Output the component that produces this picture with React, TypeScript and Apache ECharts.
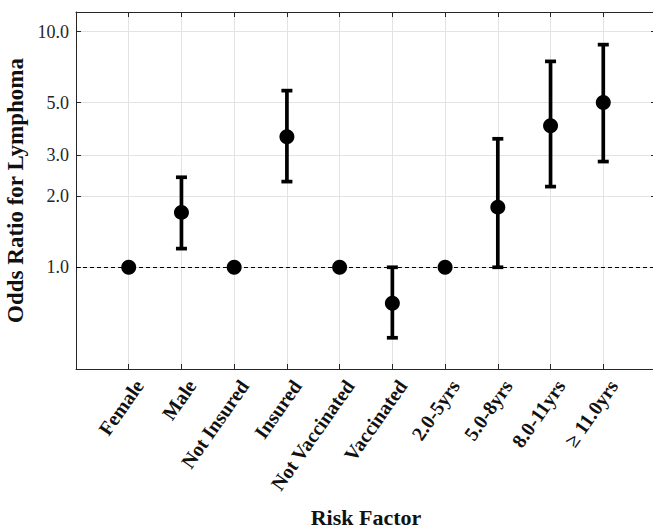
import React, { useEffect, useRef } from "react";
import * as echarts from "echarts";

const categories = [
  "Female", "Male", "Not Insured", "Insured", "Not Vaccinated",
  "Vaccinated", "2.0-5yrs", "5.0-8yrs", "8.0-11yrs", "≥ 11.0yrs",
];
const oddsRatio = [1.0, 1.71, 1.0, 3.58, 1.0, 0.703, 1.0, 1.8, 3.99, 5.01];
const ciLower: (number | null)[] = [null, 1.2, null, 2.31, null, 0.502, null, 1.0, 2.2, 2.81];
const ciUpper: (number | null)[] = [null, 2.41, null, 5.62, null, 1.0, null, 3.51, 7.48, 8.81];
const yTicks = [1.0, 2.0, 3.0, 5.0, 10.0];
const yMinVal = 0.37;
const yMaxVal = 12.12;

const FONT = "Liberation Serif";
const AXIS_COLOR = "#262626";
const GRID_COLOR = "#e3e3e3";

export default function App() {
  const ref = useRef<HTMLDivElement>(null);
  useEffect(() => {
    if (!ref.current) return;
    const chart = echarts.init(ref.current, undefined, { renderer: "svg" });
    const L = Math.log10;
    const tickLogs = yTicks.map((v) => L(v));
    const points = oddsRatio.map((v, i) => [i + 1, L(v)]);
    const bars: number[][] = [];
    ciLower.forEach((lo, i) => {
      const hi = ciUpper[i];
      if (lo != null && hi != null) bars.push([i + 1, L(lo), L(hi)]);
    });
    const axisLine = { show: true, onZero: false, lineStyle: { color: AXIS_COLOR, width: 1 } };
    const yBase = {
      type: "value" as const,
      min: L(yMinVal),
      max: L(yMaxVal),
      axisLine,
      axisTick: { show: true, inside: true, length: 5, customValues: tickLogs, lineStyle: { color: AXIS_COLOR } },
    };
    // rotated labels are anchored slightly to the right of their tick, as in the reference
    const labelShift = 0.19;
    const labelValues = categories.map((_, i) => i + 1 + labelShift);
    const catLabel = (v: number) => {
      const k = Math.round(v - labelShift);
      return k >= 1 && k <= categories.length ? categories[k - 1] : "";
    };
    chart.setOption({
      animation: false,
      grid: { left: 76, top: 12, width: 580, height: 357, outerBoundsMode: "none", containLabel: false },
      xAxis: [
        {
          type: "value",
          min: 0,
          max: 11,
          interval: 1,
          name: "Risk Factor",
          nameLocation: "middle",
          nameGap: 137,
          nameTextStyle: { fontFamily: FONT, fontWeight: "bold", fontSize: 22, color: "#111" },
          axisLine,
          axisTick: { show: true, inside: true, length: 5, lineStyle: { color: AXIS_COLOR } },
          splitLine: { show: true, lineStyle: { color: GRID_COLOR, width: 1 } },
          axisLabel: {
            customValues: labelValues,
            rotate: 55,
            margin: 13,
            fontFamily: FONT,
            fontWeight: "bold",
            fontSize: 20,
            color: "#111",
            formatter: catLabel,
          },
        },
        {
          type: "value",
          position: "top",
          min: 0,
          max: 11,
          interval: 1,
          axisLine,
          axisTick: { show: true, inside: true, length: 5, lineStyle: { color: AXIS_COLOR } },
          axisLabel: { show: false },
          splitLine: { show: false },
        },
      ],
      yAxis: [
        {
          ...yBase,
          name: "Odds Ratio for Lymphoma",
          nameLocation: "middle",
          nameGap: 48,
          nameTextStyle: { fontFamily: FONT, fontWeight: "bold", fontSize: 23, color: "#111" },
          splitLine: { show: true, lineStyle: { color: GRID_COLOR, width: 1 } },
          axisLabel: {
            customValues: tickLogs,
            margin: 7,
            fontFamily: FONT,
            fontSize: 18,
            color: "#262626",
            formatter: (v: number) => Math.pow(10, v).toFixed(1),
          },
        },
        {
          ...yBase,
          position: "right",
          splitLine: { show: false },
          axisLabel: { show: false },
        },
      ],
      series: [
        {
          type: "line",
          data: [],
          markLine: {
            silent: true,
            symbol: "none",
            label: { show: false },
            lineStyle: { color: "#000", type: [4, 3], width: 1 },
            data: [{ yAxis: L(1.0) }],
          },
        },
        {
          type: "custom",
          data: bars,
          z: 3,
          renderItem: (params: any, api: any) => {
            const x = api.value(0);
            const p0 = api.coord([x, api.value(1)]);
            const p1 = api.coord([x, api.value(2)]);
            const cap = 5.5;
            const style = { stroke: "#000", lineWidth: 3.7 };
            return {
              type: "group",
              children: [
                { type: "line", shape: { x1: p0[0], y1: p0[1], x2: p1[0], y2: p1[1] }, style },
                { type: "line", shape: { x1: p0[0] - cap, y1: p0[1], x2: p0[0] + cap, y2: p0[1] }, style },
                { type: "line", shape: { x1: p1[0] - cap, y1: p1[1], x2: p1[0] + cap, y2: p1[1] }, style },
              ],
            };
          },
        },
        {
          type: "scatter",
          data: points,
          z: 4,
          symbol: "circle",
          symbolSize: 15,
          itemStyle: { color: "#000", opacity: 1 },
        },
      ],
    });
    return () => chart.dispose();
  }, []);
  return (
    <div
      ref={ref}
      style={{ position: "absolute", left: 0, top: 0, width: 653, height: 529 }}
    />
  );
}
